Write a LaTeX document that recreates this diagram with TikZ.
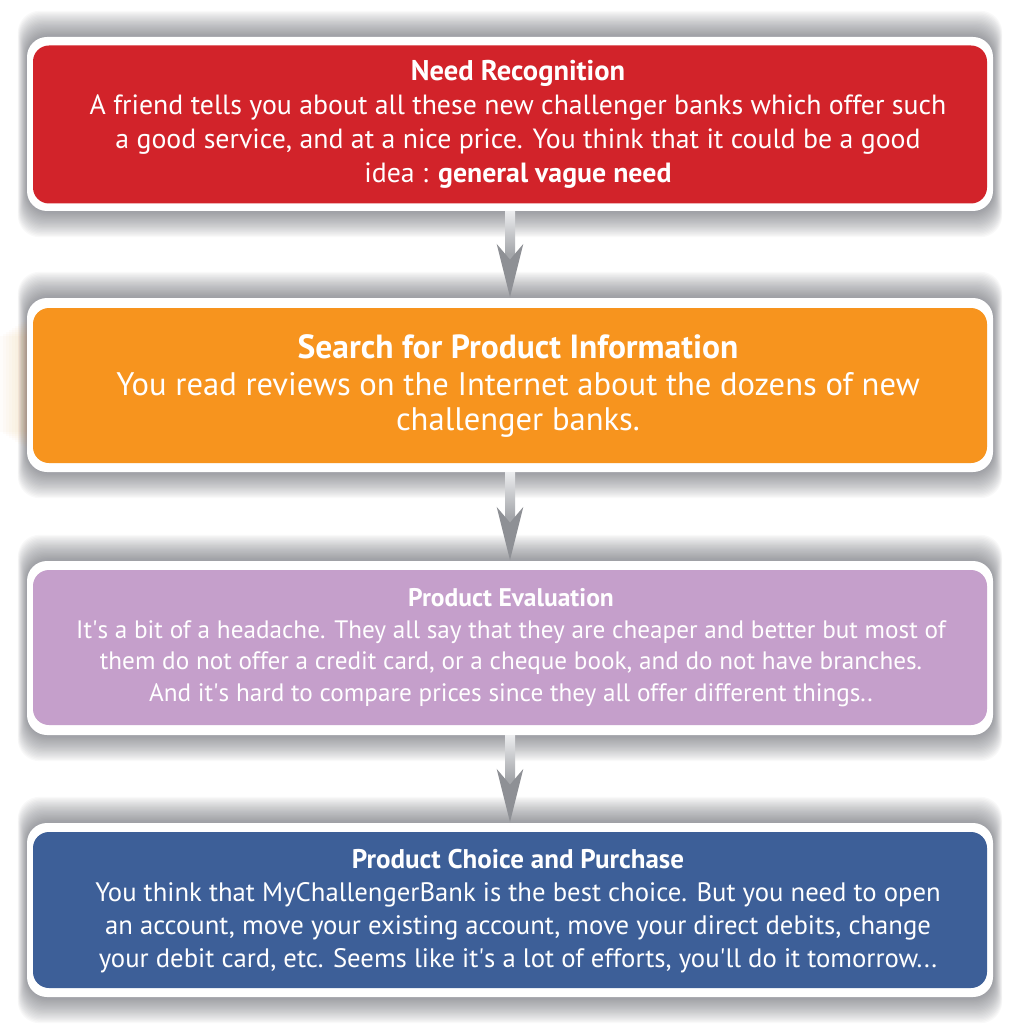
\documentclass[tikz,border=0pt]{standalone}
\usepackage{fontspec}
\setmainfont{PT Sans}
\usetikzlibrary{arrows.meta,calc}
\definecolor{boxred}{HTML}{D2232A}
\definecolor{boxorange}{HTML}{F7941E}
\definecolor{boxpurple}{HTML}{C59FCB}
\definecolor{boxblue}{HTML}{3D5F98}
\definecolor{arrowgray}{HTML}{8E9095}
\definecolor{shaftlight}{HTML}{ECEDEF}
\definecolor{shaftdark}{HTML}{A4A6AA}
\definecolor{shadowcol}{HTML}{454852}
\pgfdeclarelayer{bg}
\pgfsetlayers{bg,main}
\newcommand{\apos}{\textquotesingle}
\tikzset{
  outerbox/.style={draw=none, fill=white, rounded corners=20pt, minimum width=966pt, inner sep=0pt},
  innerbox/.style={draw=none, rounded corners=16pt, minimum width=954pt, inner sep=0pt},
  boxtext/.style={text=white, align=center, inner sep=0pt},
  shadowlayer/.style={fill=shadowcol, fill opacity=0.03, rounded corners=22pt},
  glowlayer/.style={fill=boxorange, fill opacity=0.018},
  flowarrow/.style={line width=10pt, draw=shaftdark, -{Stealth[length=52pt, width=25pt, inset=14pt, color=arrowgray, fill=arrowgray]}}
}
\begin{document}
\begin{tikzpicture}[x=1pt, y=-1pt]
\useasboundingbox (0,0) rectangle (1020,1024);

% outer white frames
\node[outerbox, minimum height=174pt] (b1o) at (510,124) {};
\node[outerbox, minimum height=174pt] (b2o) at (510,385) {};
\node[outerbox, minimum height=174pt] (b3o) at (510,648) {};
\node[outerbox, minimum height=174pt] (b4o) at (510,910) {};

% background and shadows behind frames
\begin{pgfonlayer}{bg}
\fill[white] (0,0) rectangle (1020,1024);
\foreach \b in {b1o,b2o,b3o,b4o}{
  \foreach \i in {1,...,20}{
    \fill[shadowlayer] ($(\b.north west)+(-0.45*\i,-1.3*\i)$) rectangle ($(\b.south east)+(0.45*\i,1.3*\i)$);
  }
}
\foreach \i in {1,...,9}{
  \fill[glowlayer] ($(b2o.north west)+(-3*\i,20+2*\i)$) rectangle ($(b2o.south west)+(0,-22-2*\i)$);
}
\end{pgfonlayer}

% coloured boxes
\node[innerbox, fill=boxred, minimum height=158pt] (b1) at (510,124.5) {};
\node[innerbox, fill=boxorange, minimum height=155pt] (b2) at (510,385.5) {};
\node[innerbox, fill=boxpurple, minimum height=155pt] (b3) at (510,647.5) {};
\node[innerbox, fill=boxblue, minimum height=156pt] (b4) at (510,910) {};

% texts
\node[boxtext, font=\fontsize{27.8}{34}\selectfont] (t1) at ($(b1)+(8,0)$) {{\bfseries\fontsize{28.5}{34}\selectfont Need Recognition}\\
A friend tells you about all these new challenger banks which offer such\\
a good service, and at a nice price. You think that it could be a good\\
idea : \textbf{general vague need}};

\node[boxtext, font=\fontsize{32.6}{35}\selectfont] (t2) at ($(b2)+(8,0)$) {{\bfseries\fontsize{33.5}{38}\selectfont Search for Product Information}\\[2pt]
You read reviews on the Internet about the dozens of new\\
challenger banks.};

\node[boxtext, font=\fontsize{25.2}{31.5}\selectfont] (t3) at ($(b3)+(1,0)$) {{\bfseries\fontsize{25.5}{31.5}\selectfont Product Evaluation}\\
It\apos s a bit of a headache. They all say that they are cheaper and better but most of\\
them do not offer a credit card, or a cheque book, and do not have branches.\\
And it\apos s hard to compare prices since they all offer different things..};

\node[boxtext, font=\fontsize{26.7}{33}\selectfont] (t4) at ($(b4)+(8,1.5)$) {{\bfseries\fontsize{27}{33}\selectfont Product Choice and Purchase}\\
You think that MyChallengerBank is the best choice. But you need to open\\
an account, move your existing account, move your direct debits, change\\
your debit card, etc. Seems like it\apos s a lot of efforts, you\apos ll do it tomorrow...};

% arrows
\foreach \a/\b in {b1o/b2o, b2o/b3o, b3o/b4o}{
  \draw[flowarrow] (\a.south) -- (\b.north);
  \shade[top color=shaftlight, bottom color=shaftdark] ($(\a.south)+(-5,0)$) rectangle ($(\b.north)+(5,-44)$);
}
\end{tikzpicture}
\end{document}
